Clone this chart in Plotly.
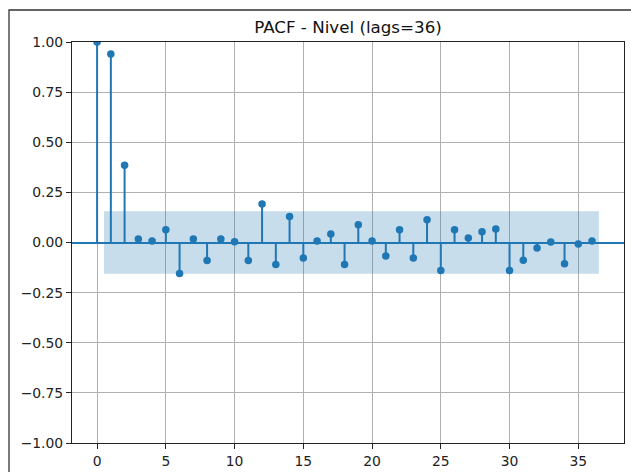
import plotly.graph_objects as go

lags = list(range(37))
pacf = [1.0, 0.94, 0.385, 0.018, 0.008, 0.063, -0.155, 0.018, -0.09, 0.018,
        0.004, -0.09, 0.192, -0.11, 0.13, -0.077, 0.008, 0.043, -0.11, 0.088,
        0.008, -0.067, 0.063, -0.077, 0.113, -0.14, 0.063, 0.022, 0.053, 0.067,
        -0.14, -0.088, -0.028, 0.003, -0.106, -0.008, 0.008]
conf = 0.156
band_x = [0.5, 36.5]
x_ticks = [0, 5, 10, 15, 20, 25, 30, 35]
y_ticks = [-1.0, -0.75, -0.5, -0.25, 0.0, 0.25, 0.5, 0.75, 1.0]
title = "PACF - Nivel (lags=36)"

W, H = 631, 472
L, R, T, B = 72, 624, 42, 443

BLUE = "#1f77b4"
FONT = "DejaVu Sans"

stem_x, stem_y = [], []
for lg, v in zip(lags, pacf):
    stem_x += [lg, lg, None]
    stem_y += [0, v, None]

fig = go.Figure()
fig.add_trace(go.Scatter(
    x=[band_x[0], band_x[1], band_x[1], band_x[0], band_x[0]],
    y=[conf, conf, -conf, -conf, conf],
    fill="toself", fillcolor="rgba(31,119,180,0.25)",
    line=dict(width=0), mode="lines", hoverinfo="skip", showlegend=False))
fig.add_trace(go.Scatter(x=stem_x, y=stem_y, mode="lines",
                         line=dict(color=BLUE, width=2), showlegend=False))
fig.add_trace(go.Scatter(x=lags, y=pacf, mode="markers",
                         marker=dict(color=BLUE, size=7.5), showlegend=False))

fig.update_layout(
    width=W, height=H,
    margin=dict(l=L, r=W - R, t=T, b=H - B, pad=0, autoexpand=False),
    paper_bgcolor="white", plot_bgcolor="white",
    font=dict(family=FONT, size=14, color="#222"),
    title=dict(text=title, x=0.5, xref="paper", xanchor="center",
               y=1 - 27 / H, yref="container", yanchor="middle",
               font=dict(family=FONT, size=16.7, color="#111")),
    shapes=[dict(type="rect", xref="paper", yref="paper",
                 x0=(9 - L) / (R - L), x1=2.0,
                 y0=-2.0, y1=(B - 10) / (B - T),
                 line=dict(color="#333", width=1.3), layer="above")],
)
fig.update_xaxes(range=[-1.825, 38.325], tickvals=x_ticks, automargin=False,
                 showgrid=True, gridcolor="#b0b0b0", gridwidth=0.8,
                 zeroline=False, showline=True, mirror=True,
                 linecolor="#222", linewidth=1,
                 ticks="outside", ticklen=5, tickwidth=1, tickcolor="#222",
                 tickfont=dict(family=FONT, size=13.9, color="#222"))
fig.update_yaxes(range=[-1, 1], tickvals=y_ticks, tickformat=".2f",
                 automargin=False,
                 showgrid=True, gridcolor="#b0b0b0", gridwidth=0.8,
                 zeroline=True, zerolinecolor=BLUE, zerolinewidth=2,
                 showline=True, mirror=True, linecolor="#222", linewidth=1,
                 ticks="outside", ticklen=5, tickwidth=1, tickcolor="#222",
                 tickfont=dict(family=FONT, size=13.9, color="#222"))

fig.write_html("out.html")
